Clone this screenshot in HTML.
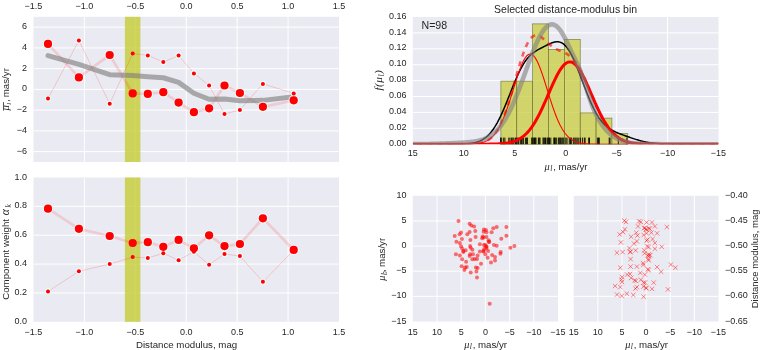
<!DOCTYPE html>
<html><head><meta charset="utf-8"><style>
html,body{margin:0;padding:0;background:#fff;width:760px;height:350px;overflow:hidden}
</style></head><body>
<svg width="760" height="350" viewBox="0 0 760 350" style="position:absolute;left:0;top:0;will-change:transform">
<g font-family='"Liberation Sans", sans-serif' fill="#262626">
<rect x="33.5" y="16.8" width="305.5" height="145.2" fill="#EAEAF2"/>
<line x1="84.42" y1="16.8" x2="84.42" y2="162" stroke="#fff" stroke-width="1"/>
<line x1="135.34" y1="16.8" x2="135.34" y2="162" stroke="#fff" stroke-width="1"/>
<line x1="186.25" y1="16.8" x2="186.25" y2="162" stroke="#fff" stroke-width="1"/>
<line x1="237.16" y1="16.8" x2="237.16" y2="162" stroke="#fff" stroke-width="1"/>
<line x1="288.08" y1="16.8" x2="288.08" y2="162" stroke="#fff" stroke-width="1"/>
<rect x="33.5" y="177.5" width="305.5" height="144.3" fill="#EAEAF2"/>
<line x1="84.42" y1="177.5" x2="84.42" y2="321.8" stroke="#fff" stroke-width="1"/>
<line x1="135.34" y1="177.5" x2="135.34" y2="321.8" stroke="#fff" stroke-width="1"/>
<line x1="186.25" y1="177.5" x2="186.25" y2="321.8" stroke="#fff" stroke-width="1"/>
<line x1="237.16" y1="177.5" x2="237.16" y2="321.8" stroke="#fff" stroke-width="1"/>
<line x1="288.08" y1="177.5" x2="288.08" y2="321.8" stroke="#fff" stroke-width="1"/>
<line x1="33.5" y1="27.18" x2="339" y2="27.18" stroke="#fff" stroke-width="1"/>
<line x1="33.5" y1="47.92" x2="339" y2="47.92" stroke="#fff" stroke-width="1"/>
<line x1="33.5" y1="68.66" x2="339" y2="68.66" stroke="#fff" stroke-width="1"/>
<line x1="33.5" y1="89.4" x2="339" y2="89.4" stroke="#fff" stroke-width="1"/>
<line x1="33.5" y1="110.14" x2="339" y2="110.14" stroke="#fff" stroke-width="1"/>
<line x1="33.5" y1="130.88" x2="339" y2="130.88" stroke="#fff" stroke-width="1"/>
<line x1="33.5" y1="151.62" x2="339" y2="151.62" stroke="#fff" stroke-width="1"/>
<line x1="33.5" y1="292.94" x2="339" y2="292.94" stroke="#fff" stroke-width="1"/>
<line x1="33.5" y1="264.08" x2="339" y2="264.08" stroke="#fff" stroke-width="1"/>
<line x1="33.5" y1="235.22" x2="339" y2="235.22" stroke="#fff" stroke-width="1"/>
<line x1="33.5" y1="206.36" x2="339" y2="206.36" stroke="#fff" stroke-width="1"/>
<rect x="124.9" y="16.8" width="15.5" height="145.2" fill="#C6CC34" fill-opacity="0.8"/>
<rect x="124.9" y="177.5" width="15.5" height="144.3" fill="#C6CC34" fill-opacity="0.8"/>
<polyline points="48,98.6 78.9,40.5 109.7,103.7 132.7,53.6 147.8,55.4 163.3,62 178.6,55.6 193.9,73.4 209.1,85.5 224.5,114 239.9,109.9 262.9,83.9 293.7,93.4" fill="none" stroke="#f00" stroke-opacity="0.2" stroke-width="0.85" stroke-linejoin="round"/>
<polyline points="48,43.9 78.9,77.4 109.7,55 132.7,93.4 147.8,93.9 163.3,92.2 178.6,102.6 193.9,112.2 209.1,108.3 224.5,85.5 239.9,93 262.9,106.8 293.7,100.3" fill="none" stroke="#f00" stroke-opacity="0.13" stroke-width="2.8" stroke-linejoin="round"/>
<polyline points="48,55.61 78.9,64.36 109.7,74.64 132.7,75.42 147.8,76.72 163.3,77.76 178.6,82.37 193.9,93.24 209.1,99.21 224.5,98.99 239.9,100.75 262.9,100.37 293.7,96.85" fill="none" stroke="#7C7C7C" stroke-opacity="0.61" stroke-width="5" stroke-linejoin="round" stroke-linecap="round"/>
<polyline points="48,291.4 78.9,271.3 109.7,264.1 132.7,257.1 147.8,257.9 163.3,253.3 178.6,260.2 193.9,251.8 209.1,264.8 224.5,254 239.9,256.1 262.9,281.8 293.7,250.2" fill="none" stroke="#f00" stroke-opacity="0.2" stroke-width="0.85" stroke-linejoin="round"/>
<polyline points="48,208.7 78.9,228.8 109.7,236 132.7,243 147.8,242.2 163.3,246.8 178.6,239.9 193.9,248.3 209.1,235.3 224.5,246.1 239.9,244 262.9,218.3 293.7,249.9" fill="none" stroke="#f00" stroke-opacity="0.13" stroke-width="2.8" stroke-linejoin="round"/>
<circle cx="48" cy="98.6" r="2.55" fill="none" stroke="#F4FFFF" stroke-width="1.1" stroke-opacity="0.8"/>
<circle cx="48" cy="43.9" r="4.65" fill="none" stroke="#F4FFFF" stroke-width="1.1" stroke-opacity="0.8"/>
<circle cx="48" cy="291.4" r="2.55" fill="none" stroke="#F4FFFF" stroke-width="1.1" stroke-opacity="0.8"/>
<circle cx="48" cy="208.7" r="4.65" fill="none" stroke="#F4FFFF" stroke-width="1.1" stroke-opacity="0.8"/>
<circle cx="78.9" cy="40.5" r="2.55" fill="none" stroke="#F4FFFF" stroke-width="1.1" stroke-opacity="0.8"/>
<circle cx="78.9" cy="77.4" r="4.65" fill="none" stroke="#F4FFFF" stroke-width="1.1" stroke-opacity="0.8"/>
<circle cx="78.9" cy="271.3" r="2.55" fill="none" stroke="#F4FFFF" stroke-width="1.1" stroke-opacity="0.8"/>
<circle cx="78.9" cy="228.8" r="4.65" fill="none" stroke="#F4FFFF" stroke-width="1.1" stroke-opacity="0.8"/>
<circle cx="109.7" cy="103.7" r="2.55" fill="none" stroke="#F4FFFF" stroke-width="1.1" stroke-opacity="0.8"/>
<circle cx="109.7" cy="55" r="4.65" fill="none" stroke="#F4FFFF" stroke-width="1.1" stroke-opacity="0.8"/>
<circle cx="109.7" cy="264.1" r="2.55" fill="none" stroke="#F4FFFF" stroke-width="1.1" stroke-opacity="0.8"/>
<circle cx="109.7" cy="236" r="4.65" fill="none" stroke="#F4FFFF" stroke-width="1.1" stroke-opacity="0.8"/>
<circle cx="147.8" cy="55.4" r="2.55" fill="none" stroke="#F4FFFF" stroke-width="1.1" stroke-opacity="0.8"/>
<circle cx="147.8" cy="93.9" r="4.65" fill="none" stroke="#F4FFFF" stroke-width="1.1" stroke-opacity="0.8"/>
<circle cx="147.8" cy="257.9" r="2.55" fill="none" stroke="#F4FFFF" stroke-width="1.1" stroke-opacity="0.8"/>
<circle cx="147.8" cy="242.2" r="4.65" fill="none" stroke="#F4FFFF" stroke-width="1.1" stroke-opacity="0.8"/>
<circle cx="163.3" cy="62" r="2.55" fill="none" stroke="#F4FFFF" stroke-width="1.1" stroke-opacity="0.8"/>
<circle cx="163.3" cy="92.2" r="4.65" fill="none" stroke="#F4FFFF" stroke-width="1.1" stroke-opacity="0.8"/>
<circle cx="163.3" cy="253.3" r="2.55" fill="none" stroke="#F4FFFF" stroke-width="1.1" stroke-opacity="0.8"/>
<circle cx="163.3" cy="246.8" r="4.65" fill="none" stroke="#F4FFFF" stroke-width="1.1" stroke-opacity="0.8"/>
<circle cx="178.6" cy="55.6" r="2.55" fill="none" stroke="#F4FFFF" stroke-width="1.1" stroke-opacity="0.8"/>
<circle cx="178.6" cy="102.6" r="4.65" fill="none" stroke="#F4FFFF" stroke-width="1.1" stroke-opacity="0.8"/>
<circle cx="178.6" cy="260.2" r="2.55" fill="none" stroke="#F4FFFF" stroke-width="1.1" stroke-opacity="0.8"/>
<circle cx="178.6" cy="239.9" r="4.65" fill="none" stroke="#F4FFFF" stroke-width="1.1" stroke-opacity="0.8"/>
<circle cx="193.9" cy="73.4" r="2.55" fill="none" stroke="#F4FFFF" stroke-width="1.1" stroke-opacity="0.8"/>
<circle cx="193.9" cy="112.2" r="4.65" fill="none" stroke="#F4FFFF" stroke-width="1.1" stroke-opacity="0.8"/>
<circle cx="193.9" cy="251.8" r="2.55" fill="none" stroke="#F4FFFF" stroke-width="1.1" stroke-opacity="0.8"/>
<circle cx="193.9" cy="248.3" r="4.65" fill="none" stroke="#F4FFFF" stroke-width="1.1" stroke-opacity="0.8"/>
<circle cx="209.1" cy="85.5" r="2.55" fill="none" stroke="#F4FFFF" stroke-width="1.1" stroke-opacity="0.8"/>
<circle cx="209.1" cy="108.3" r="4.65" fill="none" stroke="#F4FFFF" stroke-width="1.1" stroke-opacity="0.8"/>
<circle cx="209.1" cy="264.8" r="2.55" fill="none" stroke="#F4FFFF" stroke-width="1.1" stroke-opacity="0.8"/>
<circle cx="209.1" cy="235.3" r="4.65" fill="none" stroke="#F4FFFF" stroke-width="1.1" stroke-opacity="0.8"/>
<circle cx="224.5" cy="114" r="2.55" fill="none" stroke="#F4FFFF" stroke-width="1.1" stroke-opacity="0.8"/>
<circle cx="224.5" cy="85.5" r="4.65" fill="none" stroke="#F4FFFF" stroke-width="1.1" stroke-opacity="0.8"/>
<circle cx="224.5" cy="254" r="2.55" fill="none" stroke="#F4FFFF" stroke-width="1.1" stroke-opacity="0.8"/>
<circle cx="224.5" cy="246.1" r="4.65" fill="none" stroke="#F4FFFF" stroke-width="1.1" stroke-opacity="0.8"/>
<circle cx="239.9" cy="109.9" r="2.55" fill="none" stroke="#F4FFFF" stroke-width="1.1" stroke-opacity="0.8"/>
<circle cx="239.9" cy="93" r="4.65" fill="none" stroke="#F4FFFF" stroke-width="1.1" stroke-opacity="0.8"/>
<circle cx="239.9" cy="256.1" r="2.55" fill="none" stroke="#F4FFFF" stroke-width="1.1" stroke-opacity="0.8"/>
<circle cx="239.9" cy="244" r="4.65" fill="none" stroke="#F4FFFF" stroke-width="1.1" stroke-opacity="0.8"/>
<circle cx="262.9" cy="83.9" r="2.55" fill="none" stroke="#F4FFFF" stroke-width="1.1" stroke-opacity="0.8"/>
<circle cx="262.9" cy="106.8" r="4.65" fill="none" stroke="#F4FFFF" stroke-width="1.1" stroke-opacity="0.8"/>
<circle cx="262.9" cy="281.8" r="2.55" fill="none" stroke="#F4FFFF" stroke-width="1.1" stroke-opacity="0.8"/>
<circle cx="262.9" cy="218.3" r="4.65" fill="none" stroke="#F4FFFF" stroke-width="1.1" stroke-opacity="0.8"/>
<circle cx="293.7" cy="93.4" r="2.55" fill="none" stroke="#F4FFFF" stroke-width="1.1" stroke-opacity="0.8"/>
<circle cx="293.7" cy="100.3" r="4.65" fill="none" stroke="#F4FFFF" stroke-width="1.1" stroke-opacity="0.8"/>
<circle cx="293.7" cy="250.2" r="2.55" fill="none" stroke="#F4FFFF" stroke-width="1.1" stroke-opacity="0.8"/>
<circle cx="293.7" cy="249.9" r="4.65" fill="none" stroke="#F4FFFF" stroke-width="1.1" stroke-opacity="0.8"/>
<circle cx="48" cy="98.6" r="2.0" fill="#f00"/>
<circle cx="48" cy="43.9" r="4.1" fill="#f00"/>
<circle cx="48" cy="291.4" r="2.0" fill="#f00"/>
<circle cx="48" cy="208.7" r="4.1" fill="#f00"/>
<circle cx="78.9" cy="40.5" r="2.0" fill="#f00"/>
<circle cx="78.9" cy="77.4" r="4.1" fill="#f00"/>
<circle cx="78.9" cy="271.3" r="2.0" fill="#f00"/>
<circle cx="78.9" cy="228.8" r="4.1" fill="#f00"/>
<circle cx="109.7" cy="103.7" r="2.0" fill="#f00"/>
<circle cx="109.7" cy="55" r="4.1" fill="#f00"/>
<circle cx="109.7" cy="264.1" r="2.0" fill="#f00"/>
<circle cx="109.7" cy="236" r="4.1" fill="#f00"/>
<circle cx="132.7" cy="53.6" r="2.0" fill="#f00"/>
<circle cx="132.7" cy="93.4" r="4.1" fill="#f00"/>
<circle cx="132.7" cy="257.1" r="2.0" fill="#f00"/>
<circle cx="132.7" cy="243" r="4.1" fill="#f00"/>
<circle cx="147.8" cy="55.4" r="2.0" fill="#f00"/>
<circle cx="147.8" cy="93.9" r="4.1" fill="#f00"/>
<circle cx="147.8" cy="257.9" r="2.0" fill="#f00"/>
<circle cx="147.8" cy="242.2" r="4.1" fill="#f00"/>
<circle cx="163.3" cy="62" r="2.0" fill="#f00"/>
<circle cx="163.3" cy="92.2" r="4.1" fill="#f00"/>
<circle cx="163.3" cy="253.3" r="2.0" fill="#f00"/>
<circle cx="163.3" cy="246.8" r="4.1" fill="#f00"/>
<circle cx="178.6" cy="55.6" r="2.0" fill="#f00"/>
<circle cx="178.6" cy="102.6" r="4.1" fill="#f00"/>
<circle cx="178.6" cy="260.2" r="2.0" fill="#f00"/>
<circle cx="178.6" cy="239.9" r="4.1" fill="#f00"/>
<circle cx="193.9" cy="73.4" r="2.0" fill="#f00"/>
<circle cx="193.9" cy="112.2" r="4.1" fill="#f00"/>
<circle cx="193.9" cy="251.8" r="2.0" fill="#f00"/>
<circle cx="193.9" cy="248.3" r="4.1" fill="#f00"/>
<circle cx="209.1" cy="85.5" r="2.0" fill="#f00"/>
<circle cx="209.1" cy="108.3" r="4.1" fill="#f00"/>
<circle cx="209.1" cy="264.8" r="2.0" fill="#f00"/>
<circle cx="209.1" cy="235.3" r="4.1" fill="#f00"/>
<circle cx="224.5" cy="114" r="2.0" fill="#f00"/>
<circle cx="224.5" cy="85.5" r="4.1" fill="#f00"/>
<circle cx="224.5" cy="254" r="2.0" fill="#f00"/>
<circle cx="224.5" cy="246.1" r="4.1" fill="#f00"/>
<circle cx="239.9" cy="109.9" r="2.0" fill="#f00"/>
<circle cx="239.9" cy="93" r="4.1" fill="#f00"/>
<circle cx="239.9" cy="256.1" r="2.0" fill="#f00"/>
<circle cx="239.9" cy="244" r="4.1" fill="#f00"/>
<circle cx="262.9" cy="83.9" r="2.0" fill="#f00"/>
<circle cx="262.9" cy="106.8" r="4.1" fill="#f00"/>
<circle cx="262.9" cy="281.8" r="2.0" fill="#f00"/>
<circle cx="262.9" cy="218.3" r="4.1" fill="#f00"/>
<circle cx="293.7" cy="93.4" r="2.0" fill="#f00"/>
<circle cx="293.7" cy="100.3" r="4.1" fill="#f00"/>
<circle cx="293.7" cy="250.2" r="2.0" fill="#f00"/>
<circle cx="293.7" cy="249.9" r="4.1" fill="#f00"/>
<text x="33.5" y="9.2" text-anchor="middle" font-size="9" >−1.5</text>
<text x="33.5" y="335" text-anchor="middle" font-size="9" >−1.5</text>
<text x="84.42" y="9.2" text-anchor="middle" font-size="9" >−1.0</text>
<text x="84.42" y="335" text-anchor="middle" font-size="9" >−1.0</text>
<text x="135.34" y="9.2" text-anchor="middle" font-size="9" >−0.5</text>
<text x="135.34" y="335" text-anchor="middle" font-size="9" >−0.5</text>
<text x="186.25" y="9.2" text-anchor="middle" font-size="9" >0.0</text>
<text x="186.25" y="335" text-anchor="middle" font-size="9" >0.0</text>
<text x="237.16" y="9.2" text-anchor="middle" font-size="9" >0.5</text>
<text x="237.16" y="335" text-anchor="middle" font-size="9" >0.5</text>
<text x="288.08" y="9.2" text-anchor="middle" font-size="9" >1.0</text>
<text x="288.08" y="335" text-anchor="middle" font-size="9" >1.0</text>
<text x="339" y="9.2" text-anchor="middle" font-size="9" >1.5</text>
<text x="339" y="335" text-anchor="middle" font-size="9" >1.5</text>
<text x="27" y="29.18" text-anchor="end" font-size="9" >6</text>
<text x="27" y="49.92" text-anchor="end" font-size="9" >4</text>
<text x="27" y="70.66" text-anchor="end" font-size="9" >2</text>
<text x="27" y="91.4" text-anchor="end" font-size="9" >0</text>
<text x="27" y="112.14" text-anchor="end" font-size="9" >−2</text>
<text x="27" y="132.88" text-anchor="end" font-size="9" >−4</text>
<text x="27" y="153.62" text-anchor="end" font-size="9" >−6</text>
<text x="27" y="323.8" text-anchor="end" font-size="9" >0.0</text>
<text x="27" y="294.94" text-anchor="end" font-size="9" >0.2</text>
<text x="27" y="266.08" text-anchor="end" font-size="9" >0.4</text>
<text x="27" y="237.22" text-anchor="end" font-size="9" >0.6</text>
<text x="27" y="208.36" text-anchor="end" font-size="9" >0.8</text>
<text x="27" y="179.5" text-anchor="end" font-size="9" >1.0</text>
<g transform="translate(9.4,110.7) rotate(-90)"><text x="0.2" y="0" font-size="10.5" font-family='"Liberation Serif", serif' font-style='italic'>μ</text><text x="5.9" y="1.6" font-size="7" font-family='"Liberation Serif", serif' font-style='italic'>l</text><text x="8.6" y="0" font-size="9.7">,</text><text x="13.5" y="0" font-size="9.7">mas/yr</text></g>
<line x1="3.5" y1="102.1" x2="3.5" y2="110.6" stroke="#262626" stroke-width="0.8"/>
<g transform="translate(9.4,299.8) rotate(-90)"><text x="0" y="0" font-size="9.7">Component weight</text><text x="84.6" y="0" font-size="11.5" font-family='"Liberation Serif", serif' font-style='italic'>α</text><text x="92.4" y="1.6" font-size="7.5" font-family='"Liberation Serif", serif' font-style='italic'>k</text></g>
<text x="186.6" y="347.9" text-anchor="middle" font-size="9.7" >Distance modulus, mag</text>
<rect x="412.8" y="17" width="305.7" height="127.2" fill="#EAEAF2"/>
<line x1="463.75" y1="17" x2="463.75" y2="144.2" stroke="#fff" stroke-width="1"/>
<line x1="514.7" y1="17" x2="514.7" y2="144.2" stroke="#fff" stroke-width="1"/>
<line x1="565.65" y1="17" x2="565.65" y2="144.2" stroke="#fff" stroke-width="1"/>
<line x1="616.6" y1="17" x2="616.6" y2="144.2" stroke="#fff" stroke-width="1"/>
<line x1="667.55" y1="17" x2="667.55" y2="144.2" stroke="#fff" stroke-width="1"/>
<line x1="412.8" y1="128.3" x2="718.5" y2="128.3" stroke="#fff" stroke-width="1"/>
<line x1="412.8" y1="112.4" x2="718.5" y2="112.4" stroke="#fff" stroke-width="1"/>
<line x1="412.8" y1="96.5" x2="718.5" y2="96.5" stroke="#fff" stroke-width="1"/>
<line x1="412.8" y1="80.6" x2="718.5" y2="80.6" stroke="#fff" stroke-width="1"/>
<line x1="412.8" y1="64.7" x2="718.5" y2="64.7" stroke="#fff" stroke-width="1"/>
<line x1="412.8" y1="48.8" x2="718.5" y2="48.8" stroke="#fff" stroke-width="1"/>
<line x1="412.8" y1="32.9" x2="718.5" y2="32.9" stroke="#fff" stroke-width="1"/>
<rect x="500.9" y="81.1" width="15.86" height="63.1" fill="#C8CC3C" fill-opacity="0.75" stroke="#6E6E3A" stroke-width="0.6"/>
<rect x="516.76" y="81.1" width="15.86" height="63.1" fill="#C8CC3C" fill-opacity="0.75" stroke="#6E6E3A" stroke-width="0.6"/>
<rect x="532.62" y="23.9" width="15.86" height="120.3" fill="#C8CC3C" fill-opacity="0.75" stroke="#6E6E3A" stroke-width="0.6"/>
<rect x="548.48" y="49.3" width="15.86" height="94.9" fill="#C8CC3C" fill-opacity="0.75" stroke="#6E6E3A" stroke-width="0.6"/>
<rect x="564.34" y="39.4" width="15.86" height="104.8" fill="#C8CC3C" fill-opacity="0.75" stroke="#6E6E3A" stroke-width="0.6"/>
<rect x="580.2" y="112.9" width="15.86" height="31.3" fill="#C8CC3C" fill-opacity="0.75" stroke="#6E6E3A" stroke-width="0.6"/>
<rect x="596.06" y="118.1" width="15.86" height="26.1" fill="#C8CC3C" fill-opacity="0.75" stroke="#6E6E3A" stroke-width="0.6"/>
<rect x="611.92" y="133.7" width="15.86" height="10.5" fill="#C8CC3C" fill-opacity="0.75" stroke="#6E6E3A" stroke-width="0.6"/>
<line x1="500.5" y1="137.6" x2="500.5" y2="144.2" stroke="#000" stroke-width="0.9"/>
<line x1="501.7" y1="137.6" x2="501.7" y2="144.2" stroke="#000" stroke-width="0.9"/>
<line x1="503.7" y1="137.6" x2="503.7" y2="144.2" stroke="#000" stroke-width="0.9"/>
<line x1="504.9" y1="137.6" x2="504.9" y2="144.2" stroke="#000" stroke-width="0.9"/>
<line x1="508.8" y1="137.6" x2="508.8" y2="144.2" stroke="#000" stroke-width="0.9"/>
<line x1="510" y1="137.6" x2="510" y2="144.2" stroke="#000" stroke-width="0.9"/>
<line x1="511.6" y1="137.6" x2="511.6" y2="144.2" stroke="#000" stroke-width="0.9"/>
<line x1="512.8" y1="137.6" x2="512.8" y2="144.2" stroke="#000" stroke-width="0.9"/>
<line x1="513.9" y1="137.6" x2="513.9" y2="144.2" stroke="#000" stroke-width="0.9"/>
<line x1="515.5" y1="137.6" x2="515.5" y2="144.2" stroke="#000" stroke-width="0.9"/>
<line x1="516.7" y1="137.6" x2="516.7" y2="144.2" stroke="#000" stroke-width="0.9"/>
<line x1="517.9" y1="137.6" x2="517.9" y2="144.2" stroke="#000" stroke-width="0.9"/>
<line x1="518.7" y1="137.6" x2="518.7" y2="144.2" stroke="#000" stroke-width="0.9"/>
<line x1="520.3" y1="137.6" x2="520.3" y2="144.2" stroke="#000" stroke-width="0.9"/>
<line x1="521.4" y1="137.6" x2="521.4" y2="144.2" stroke="#000" stroke-width="0.9"/>
<line x1="522.2" y1="137.6" x2="522.2" y2="144.2" stroke="#000" stroke-width="0.9"/>
<line x1="523.4" y1="137.6" x2="523.4" y2="144.2" stroke="#000" stroke-width="0.9"/>
<line x1="525.4" y1="137.6" x2="525.4" y2="144.2" stroke="#000" stroke-width="0.9"/>
<line x1="526.6" y1="137.6" x2="526.6" y2="144.2" stroke="#000" stroke-width="0.9"/>
<line x1="527.4" y1="137.6" x2="527.4" y2="144.2" stroke="#000" stroke-width="0.9"/>
<line x1="531.7" y1="137.6" x2="531.7" y2="144.2" stroke="#000" stroke-width="0.9"/>
<line x1="532.7" y1="137.6" x2="532.7" y2="144.2" stroke="#000" stroke-width="0.9"/>
<line x1="533.7" y1="137.6" x2="533.7" y2="144.2" stroke="#000" stroke-width="0.9"/>
<line x1="534.5" y1="137.6" x2="534.5" y2="144.2" stroke="#000" stroke-width="0.9"/>
<line x1="535.3" y1="137.6" x2="535.3" y2="144.2" stroke="#000" stroke-width="0.9"/>
<line x1="536" y1="137.6" x2="536" y2="144.2" stroke="#000" stroke-width="0.9"/>
<line x1="538.4" y1="137.6" x2="538.4" y2="144.2" stroke="#000" stroke-width="0.9"/>
<line x1="539.2" y1="137.6" x2="539.2" y2="144.2" stroke="#000" stroke-width="0.9"/>
<line x1="540" y1="137.6" x2="540" y2="144.2" stroke="#000" stroke-width="0.9"/>
<line x1="543" y1="137.6" x2="543" y2="144.2" stroke="#000" stroke-width="0.9"/>
<line x1="543.8" y1="137.6" x2="543.8" y2="144.2" stroke="#000" stroke-width="0.9"/>
<line x1="544.7" y1="137.6" x2="544.7" y2="144.2" stroke="#000" stroke-width="0.9"/>
<line x1="545.5" y1="137.6" x2="545.5" y2="144.2" stroke="#000" stroke-width="0.9"/>
<line x1="547" y1="137.6" x2="547" y2="144.2" stroke="#000" stroke-width="0.9"/>
<line x1="547.8" y1="137.6" x2="547.8" y2="144.2" stroke="#000" stroke-width="0.9"/>
<line x1="548.7" y1="137.6" x2="548.7" y2="144.2" stroke="#000" stroke-width="0.9"/>
<line x1="549.5" y1="137.6" x2="549.5" y2="144.2" stroke="#000" stroke-width="0.9"/>
<line x1="550.8" y1="137.6" x2="550.8" y2="144.2" stroke="#000" stroke-width="0.9"/>
<line x1="553.8" y1="137.6" x2="553.8" y2="144.2" stroke="#000" stroke-width="0.9"/>
<line x1="554.5" y1="137.6" x2="554.5" y2="144.2" stroke="#000" stroke-width="0.9"/>
<line x1="555.3" y1="137.6" x2="555.3" y2="144.2" stroke="#000" stroke-width="0.9"/>
<line x1="556.3" y1="137.6" x2="556.3" y2="144.2" stroke="#000" stroke-width="0.9"/>
<line x1="558.3" y1="137.6" x2="558.3" y2="144.2" stroke="#000" stroke-width="0.9"/>
<line x1="559.1" y1="137.6" x2="559.1" y2="144.2" stroke="#000" stroke-width="0.9"/>
<line x1="559.9" y1="137.6" x2="559.9" y2="144.2" stroke="#000" stroke-width="0.9"/>
<line x1="560.7" y1="137.6" x2="560.7" y2="144.2" stroke="#000" stroke-width="0.9"/>
<line x1="561.8" y1="137.6" x2="561.8" y2="144.2" stroke="#000" stroke-width="0.9"/>
<line x1="562.8" y1="137.6" x2="562.8" y2="144.2" stroke="#000" stroke-width="0.9"/>
<line x1="563.8" y1="137.6" x2="563.8" y2="144.2" stroke="#000" stroke-width="0.9"/>
<line x1="565.8" y1="137.6" x2="565.8" y2="144.2" stroke="#000" stroke-width="0.9"/>
<line x1="567" y1="137.6" x2="567" y2="144.2" stroke="#000" stroke-width="0.9"/>
<line x1="569.3" y1="137.6" x2="569.3" y2="144.2" stroke="#000" stroke-width="0.9"/>
<line x1="570.5" y1="137.6" x2="570.5" y2="144.2" stroke="#000" stroke-width="0.9"/>
<line x1="571.7" y1="137.6" x2="571.7" y2="144.2" stroke="#000" stroke-width="0.9"/>
<line x1="573.7" y1="137.6" x2="573.7" y2="144.2" stroke="#000" stroke-width="0.9"/>
<line x1="574.9" y1="137.6" x2="574.9" y2="144.2" stroke="#000" stroke-width="0.9"/>
<line x1="576" y1="137.6" x2="576" y2="144.2" stroke="#000" stroke-width="0.9"/>
<line x1="577.2" y1="137.6" x2="577.2" y2="144.2" stroke="#000" stroke-width="0.9"/>
<line x1="578.8" y1="137.6" x2="578.8" y2="144.2" stroke="#000" stroke-width="0.9"/>
<line x1="580.4" y1="137.6" x2="580.4" y2="144.2" stroke="#000" stroke-width="0.9"/>
<line x1="582.4" y1="137.6" x2="582.4" y2="144.2" stroke="#000" stroke-width="0.9"/>
<line x1="584.3" y1="137.6" x2="584.3" y2="144.2" stroke="#000" stroke-width="0.9"/>
<line x1="585.1" y1="137.6" x2="585.1" y2="144.2" stroke="#000" stroke-width="0.9"/>
<line x1="588.7" y1="137.6" x2="588.7" y2="144.2" stroke="#000" stroke-width="0.9"/>
<line x1="589.5" y1="137.6" x2="589.5" y2="144.2" stroke="#000" stroke-width="0.9"/>
<line x1="597.4" y1="137.6" x2="597.4" y2="144.2" stroke="#000" stroke-width="0.9"/>
<line x1="598.5" y1="137.6" x2="598.5" y2="144.2" stroke="#000" stroke-width="0.9"/>
<line x1="599.3" y1="137.6" x2="599.3" y2="144.2" stroke="#000" stroke-width="0.9"/>
<line x1="609.2" y1="137.6" x2="609.2" y2="144.2" stroke="#000" stroke-width="0.9"/>
<line x1="610" y1="137.6" x2="610" y2="144.2" stroke="#000" stroke-width="0.9"/>
<line x1="618.3" y1="137.6" x2="618.3" y2="144.2" stroke="#000" stroke-width="0.9"/>
<line x1="626.9" y1="137.6" x2="626.9" y2="144.2" stroke="#000" stroke-width="0.9"/>
<clipPath id="ctr"><rect x="412.8" y="17" width="305.7" height="127.2"/></clipPath>
<g clip-path="url(#ctr)">
<polyline points="412.80,144.20 413.57,144.20 414.33,144.20 415.10,144.20 415.86,144.20 416.63,144.20 417.40,144.20 418.16,144.20 418.93,144.20 419.70,144.20 420.46,144.20 421.23,144.20 421.99,144.20 422.76,144.20 423.53,144.20 424.29,144.20 425.06,144.20 425.82,144.20 426.59,144.20 427.36,144.20 428.12,144.20 428.89,144.20 429.66,144.20 430.42,144.20 431.19,144.20 431.95,144.20 432.72,144.20 433.49,144.20 434.25,144.20 435.02,144.20 435.78,144.20 436.55,144.20 437.32,144.20 438.08,144.20 438.85,144.20 439.62,144.20 440.38,144.20 441.15,144.20 441.91,144.20 442.68,144.20 443.45,144.20 444.21,144.20 444.98,144.19 445.75,144.19 446.51,144.19 447.28,144.19 448.04,144.19 448.81,144.19 449.58,144.19 450.34,144.18 451.11,144.18 451.87,144.18 452.64,144.17 453.41,144.17 454.17,144.16 454.94,144.15 455.71,144.15 456.47,144.14 457.24,144.13 458.00,144.11 458.77,144.10 459.54,144.08 460.30,144.07 461.07,144.05 461.83,144.02 462.60,143.99 463.37,143.96 464.13,143.93 464.90,143.89 465.67,143.84 466.43,143.79 467.20,143.74 467.96,143.67 468.73,143.60 469.50,143.52 470.26,143.43 471.03,143.32 471.79,143.21 472.56,143.08 473.33,142.95 474.09,142.79 474.86,142.62 475.63,142.43 476.39,142.22 477.16,141.99 477.92,141.74 478.69,141.46 479.46,141.16 480.22,140.83 480.99,140.47 481.75,140.08 482.52,139.66 483.29,139.20 484.05,138.71 484.82,138.17 485.59,137.60 486.35,136.98 487.12,136.32 487.88,135.61 488.65,134.86 489.42,134.05 490.18,133.20 490.95,132.29 491.72,131.33 492.48,130.31 493.25,129.24 494.01,128.12 494.78,126.94 495.55,125.70 496.31,124.41 497.08,123.06 497.84,121.65 498.61,120.19 499.38,118.68 500.14,117.12 500.91,115.51 501.68,113.86 502.44,112.15 503.21,110.41 503.97,108.63 504.74,106.82 505.51,104.97 506.27,103.10 507.04,101.21 507.80,99.29 508.57,97.37 509.34,95.43 510.10,93.50 510.87,91.56 511.64,89.63 512.40,87.71 513.17,85.81 513.93,83.93 514.70,82.08 515.47,80.26 516.23,78.48 517.00,76.73 517.76,75.03 518.53,73.38 519.30,71.77 520.06,70.22 520.83,68.73 521.60,67.30 522.36,65.93 523.13,64.61 523.89,63.36 524.66,62.18 525.43,61.05 526.19,59.99 526.96,58.98 527.72,58.04 528.49,57.15 529.26,56.32 530.02,55.54 530.79,54.81 531.56,54.13 532.32,53.49 533.09,52.89 533.85,52.32 534.62,51.79 535.39,51.28 536.15,50.80 536.92,50.34 537.68,49.90 538.45,49.47 539.22,49.06 539.98,48.65 540.75,48.25 541.52,47.86 542.28,47.47 543.05,47.08 543.81,46.69 544.58,46.30 545.35,45.92 546.11,45.54 546.88,45.16 547.65,44.78 548.41,44.41 549.18,44.06 549.94,43.71 550.71,43.38 551.48,43.07 552.24,42.78 553.01,42.52 553.77,42.29 554.54,42.10 555.31,41.95 556.07,41.84 556.84,41.78 557.61,41.78 558.37,41.84 559.14,41.96 559.90,42.14 560.67,42.40 561.44,42.74 562.20,43.15 562.97,43.64 563.73,44.21 564.50,44.87 565.27,45.61 566.03,46.45 566.80,47.36 567.57,48.37 568.33,49.46 569.10,50.64 569.86,51.90 570.63,53.25 571.40,54.67 572.16,56.16 572.93,57.73 573.69,59.37 574.46,61.07 575.23,62.83 575.99,64.65 576.76,66.51 577.53,68.42 578.29,70.36 579.06,72.34 579.82,74.34 580.59,76.36 581.36,78.39 582.12,80.43 582.89,82.48 583.65,84.52 584.42,86.55 585.19,88.56 585.95,90.56 586.72,92.53 587.49,94.47 588.25,96.37 589.02,98.24 589.78,100.07 590.55,101.85 591.32,103.58 592.08,105.26 592.85,106.89 593.62,108.46 594.38,109.98 595.15,111.43 595.91,112.83 596.68,114.17 597.45,115.45 598.21,116.67 598.98,117.84 599.74,118.94 600.51,119.99 601.28,120.98 602.04,121.92 602.81,122.81 603.58,123.65 604.34,124.43 605.11,125.18 605.87,125.88 606.64,126.54 607.41,127.16 608.17,127.74 608.94,128.29 609.70,128.80 610.47,129.29 611.24,129.76 612.00,130.19 612.77,130.61 613.54,131.01 614.30,131.38 615.07,131.75 615.83,132.09 616.60,132.43 617.37,132.76 618.13,133.07 618.90,133.38 619.66,133.69 620.43,133.98 621.20,134.27 621.96,134.56 622.73,134.85 623.50,135.13 624.26,135.41 625.03,135.69 625.79,135.97 626.56,136.24 627.33,136.51 628.09,136.79 628.86,137.06 629.62,137.32 630.39,137.59 631.16,137.86 631.92,138.12 632.69,138.37 633.46,138.63 634.22,138.88 634.99,139.13 635.75,139.37 636.52,139.61 637.29,139.84 638.05,140.07 638.82,140.29 639.58,140.51 640.35,140.71 641.12,140.92 641.88,141.11 642.65,141.30 643.42,141.48 644.18,141.66 644.95,141.82 645.71,141.98 646.48,142.14 647.25,142.28 648.01,142.42 648.78,142.55 649.55,142.67 650.31,142.79 651.08,142.90 651.84,143.00 652.61,143.10 653.38,143.19 654.14,143.28 654.91,143.36 655.67,143.43 656.44,143.50 657.21,143.56 657.97,143.62 658.74,143.68 659.51,143.73 660.27,143.77 661.04,143.81 661.80,143.85 662.57,143.89 663.34,143.92 664.10,143.95 664.87,143.98 665.63,144.00 666.40,144.02 667.17,144.04 667.93,144.06 668.70,144.08 669.47,144.09 670.23,144.10 671.00,144.11 671.76,144.12 672.53,144.13 673.30,144.14 674.06,144.15 674.83,144.16 675.59,144.16 676.36,144.17 677.13,144.17 677.89,144.17 678.66,144.18 679.43,144.18 680.19,144.18 680.96,144.19 681.72,144.19 682.49,144.19 683.26,144.19 684.02,144.19 684.79,144.19 685.55,144.19 686.32,144.20 687.09,144.20 687.85,144.20 688.62,144.20 689.39,144.20 690.15,144.20 690.92,144.20 691.68,144.20 692.45,144.20 693.22,144.20 693.98,144.20 694.75,144.20 695.52,144.20 696.28,144.20 697.05,144.20 697.81,144.20 698.58,144.20 699.35,144.20 700.11,144.20 700.88,144.20 701.64,144.20 702.41,144.20 703.18,144.20 703.94,144.20 704.71,144.20 705.48,144.20 706.24,144.20 707.01,144.20 707.77,144.20 708.54,144.20 709.31,144.20 710.07,144.20 710.84,144.20 711.60,144.20 712.37,144.20 713.14,144.20 713.90,144.20 714.67,144.20 715.44,144.20 716.20,144.20 716.97,144.20 717.73,144.20 718.50,144.20" fill="none" stroke="#000" stroke-width="1.5"/>
<polyline points="412.80,144.20 413.57,144.20 414.33,144.20 415.10,144.20 415.86,144.20 416.63,144.20 417.40,144.20 418.16,144.20 418.93,144.20 419.70,144.20 420.46,144.20 421.23,144.20 421.99,144.20 422.76,144.20 423.53,144.20 424.29,144.20 425.06,144.20 425.82,144.20 426.59,144.20 427.36,144.20 428.12,144.20 428.89,144.20 429.66,144.20 430.42,144.20 431.19,144.20 431.95,144.20 432.72,144.20 433.49,144.20 434.25,144.20 435.02,144.20 435.78,144.20 436.55,144.20 437.32,144.20 438.08,144.20 438.85,144.20 439.62,144.20 440.38,144.20 441.15,144.20 441.91,144.20 442.68,144.20 443.45,144.20 444.21,144.20 444.98,144.20 445.75,144.20 446.51,144.20 447.28,144.20 448.04,144.20 448.81,144.20 449.58,144.20 450.34,144.20 451.11,144.20 451.87,144.20 452.64,144.20 453.41,144.20 454.17,144.20 454.94,144.20 455.71,144.19 456.47,144.19 457.24,144.19 458.00,144.19 458.77,144.19 459.54,144.18 460.30,144.18 461.07,144.18 461.83,144.17 462.60,144.17 463.37,144.16 464.13,144.15 464.90,144.15 465.67,144.13 466.43,144.12 467.20,144.11 467.96,144.09 468.73,144.07 469.50,144.05 470.26,144.02 471.03,143.99 471.79,143.96 472.56,143.92 473.33,143.87 474.09,143.82 474.86,143.76 475.63,143.69 476.39,143.61 477.16,143.52 477.92,143.41 478.69,143.30 479.46,143.17 480.22,143.02 480.99,142.85 481.75,142.66 482.52,142.45 483.29,142.21 484.05,141.95 484.82,141.66 485.59,141.34 486.35,140.98 487.12,140.58 487.88,140.14 488.65,139.66 489.42,139.13 490.18,138.56 490.95,137.92 491.72,137.24 492.48,136.49 493.25,135.68 494.01,134.80 494.78,133.86 495.55,132.84 496.31,131.74 497.08,130.57 497.84,129.32 498.61,127.99 499.38,126.57 500.14,125.06 500.91,123.47 501.68,121.79 502.44,120.02 503.21,118.17 503.97,116.23 504.74,114.20 505.51,112.09 506.27,109.90 507.04,107.63 507.80,105.29 508.57,102.87 509.34,100.40 510.10,97.86 510.87,95.28 511.64,92.65 512.40,89.98 513.17,87.28 513.93,84.56 514.70,81.83 515.47,79.10 516.23,76.38 517.00,73.67 517.76,70.99 518.53,68.35 519.30,65.76 520.06,63.22 520.83,60.75 521.60,58.36 522.36,56.05 523.13,53.84 523.89,51.73 524.66,49.73 525.43,47.85 526.19,46.08 526.96,44.45 527.72,42.94 528.49,41.58 529.26,40.34 530.02,39.25 530.79,38.29 531.56,37.47 532.32,36.79 533.09,36.24 533.85,35.82 534.62,35.52 535.39,35.35 536.15,35.29 536.92,35.33 537.68,35.48 538.45,35.72 539.22,36.04 539.98,36.44 540.75,36.90 541.52,37.43 542.28,38.00 543.05,38.62 543.81,39.27 544.58,39.94 545.35,40.63 546.11,41.33 546.88,42.03 547.65,42.73 548.41,43.42 549.18,44.09 549.94,44.74 550.71,45.37 551.48,45.98 552.24,46.55 553.01,47.10 553.77,47.61 554.54,48.10 555.31,48.55 556.07,48.98 556.84,49.38 557.61,49.76 558.37,50.12 559.14,50.46 559.90,50.78 560.67,51.10 561.44,51.42 562.20,51.73 562.97,52.05 563.73,52.39 564.50,52.74 565.27,53.11 566.03,53.50 566.80,53.93 567.57,54.39 568.33,54.89 569.10,55.44 569.86,56.03 570.63,56.68 571.40,57.37 572.16,58.13 572.93,58.94 573.69,59.81 574.46,60.74 575.23,61.74 575.99,62.80 576.76,63.91 577.53,65.09 578.29,66.33 579.06,67.63 579.82,68.98 580.59,70.39 581.36,71.85 582.12,73.36 582.89,74.92 583.65,76.51 584.42,78.15 585.19,79.82 585.95,81.52 586.72,83.25 587.49,85.00 588.25,86.77 589.02,88.55 589.78,90.35 590.55,92.15 591.32,93.94 592.08,95.74 592.85,97.53 593.62,99.31 594.38,101.08 595.15,102.82 595.91,104.55 596.68,106.25 597.45,107.92 598.21,109.57 598.98,111.18 599.74,112.75 600.51,114.29 601.28,115.78 602.04,117.24 602.81,118.65 603.58,120.03 604.34,121.35 605.11,122.63 605.87,123.87 606.64,125.05 607.41,126.19 608.17,127.29 608.94,128.34 609.70,129.34 610.47,130.30 611.24,131.21 612.00,132.07 612.77,132.90 613.54,133.68 614.30,134.42 615.07,135.12 615.83,135.78 616.60,136.40 617.37,136.98 618.13,137.53 618.90,138.05 619.66,138.53 620.43,138.98 621.20,139.40 621.96,139.80 622.73,140.16 623.50,140.50 624.26,140.82 625.03,141.11 625.79,141.38 626.56,141.63 627.33,141.86 628.09,142.08 628.86,142.27 629.62,142.45 630.39,142.62 631.16,142.77 631.92,142.91 632.69,143.04 633.46,143.15 634.22,143.26 634.99,143.35 635.75,143.44 636.52,143.52 637.29,143.59 638.05,143.65 638.82,143.71 639.58,143.77 640.35,143.81 641.12,143.86 641.88,143.89 642.65,143.93 643.42,143.96 644.18,143.99 644.95,144.01 645.71,144.03 646.48,144.05 647.25,144.07 648.01,144.09 648.78,144.10 649.55,144.11 650.31,144.12 651.08,144.13 651.84,144.14 652.61,144.15 653.38,144.16 654.14,144.16 654.91,144.17 655.67,144.17 656.44,144.17 657.21,144.18 657.97,144.18 658.74,144.18 659.51,144.19 660.27,144.19 661.04,144.19 661.80,144.19 662.57,144.19 663.34,144.19 664.10,144.19 664.87,144.20 665.63,144.20 666.40,144.20 667.17,144.20 667.93,144.20 668.70,144.20 669.47,144.20 670.23,144.20 671.00,144.20 671.76,144.20 672.53,144.20 673.30,144.20 674.06,144.20 674.83,144.20 675.59,144.20 676.36,144.20 677.13,144.20 677.89,144.20 678.66,144.20 679.43,144.20 680.19,144.20 680.96,144.20 681.72,144.20 682.49,144.20 683.26,144.20 684.02,144.20 684.79,144.20 685.55,144.20 686.32,144.20 687.09,144.20 687.85,144.20 688.62,144.20 689.39,144.20 690.15,144.20 690.92,144.20 691.68,144.20 692.45,144.20 693.22,144.20 693.98,144.20 694.75,144.20 695.52,144.20 696.28,144.20 697.05,144.20 697.81,144.20 698.58,144.20 699.35,144.20 700.11,144.20 700.88,144.20 701.64,144.20 702.41,144.20 703.18,144.20 703.94,144.20 704.71,144.20 705.48,144.20 706.24,144.20 707.01,144.20 707.77,144.20 708.54,144.20 709.31,144.20 710.07,144.20 710.84,144.20 711.60,144.20 712.37,144.20 713.14,144.20 713.90,144.20 714.67,144.20 715.44,144.20 716.20,144.20 716.97,144.20 717.73,144.20 718.50,144.20" fill="none" stroke="#f00" stroke-opacity="0.6" stroke-width="2.6" stroke-dasharray="5.1,5.1" stroke-dashoffset="5.90"/>
<polyline points="412.80,144.20 413.57,144.20 414.33,144.20 415.10,144.20 415.86,144.20 416.63,144.20 417.40,144.20 418.16,144.20 418.93,144.20 419.70,144.20 420.46,144.20 421.23,144.20 421.99,144.20 422.76,144.20 423.53,144.20 424.29,144.20 425.06,144.20 425.82,144.20 426.59,144.20 427.36,144.20 428.12,144.20 428.89,144.20 429.66,144.20 430.42,144.20 431.19,144.20 431.95,144.20 432.72,144.20 433.49,144.20 434.25,144.20 435.02,144.20 435.78,144.20 436.55,144.20 437.32,144.20 438.08,144.20 438.85,144.20 439.62,144.20 440.38,144.20 441.15,144.20 441.91,144.20 442.68,144.20 443.45,144.20 444.21,144.20 444.98,144.20 445.75,144.20 446.51,144.20 447.28,144.20 448.04,144.20 448.81,144.20 449.58,144.20 450.34,144.20 451.11,144.20 451.87,144.20 452.64,144.20 453.41,144.20 454.17,144.20 454.94,144.20 455.71,144.19 456.47,144.19 457.24,144.19 458.00,144.19 458.77,144.19 459.54,144.18 460.30,144.18 461.07,144.18 461.83,144.17 462.60,144.17 463.37,144.16 464.13,144.15 464.90,144.15 465.67,144.14 466.43,144.12 467.20,144.11 467.96,144.09 468.73,144.07 469.50,144.05 470.26,144.03 471.03,144.00 471.79,143.96 472.56,143.92 473.33,143.88 474.09,143.82 474.86,143.76 475.63,143.69 476.39,143.61 477.16,143.52 477.92,143.42 478.69,143.31 479.46,143.18 480.22,143.03 480.99,142.87 481.75,142.68 482.52,142.47 483.29,142.24 484.05,141.98 484.82,141.69 485.59,141.37 486.35,141.02 487.12,140.63 487.88,140.20 488.65,139.73 489.42,139.21 490.18,138.64 490.95,138.02 491.72,137.35 492.48,136.62 493.25,135.82 494.01,134.97 494.78,134.04 495.55,133.05 496.31,131.98 497.08,130.84 497.84,129.62 498.61,128.33 499.38,126.95 500.14,125.49 500.91,123.96 501.68,122.33 502.44,120.63 503.21,118.85 503.97,116.98 504.74,115.04 505.51,113.03 506.27,110.94 507.04,108.79 507.80,106.57 508.57,104.30 509.34,101.97 510.10,99.60 510.87,97.19 511.64,94.76 512.40,92.30 513.17,89.83 513.93,87.37 514.70,84.91 515.47,82.47 516.23,80.06 517.00,77.69 517.76,75.38 518.53,73.13 519.30,70.95 520.06,68.87 520.83,66.88 521.60,65.00 522.36,63.24 523.13,61.61 523.89,60.12 524.66,58.78 525.43,57.59 526.19,56.56 526.96,55.71 527.72,55.02 528.49,54.52 529.26,54.19 530.02,54.05 530.79,54.10 531.56,54.32 532.32,54.73 533.09,55.32 533.85,56.08 534.62,57.02 535.39,58.12 536.15,59.38 536.92,60.79 537.68,62.35 538.45,64.04 539.22,65.85 539.98,67.78 540.75,69.82 541.52,71.95 542.28,74.16 543.05,76.44 543.81,78.78 544.58,81.16 545.35,83.59 546.11,86.04 546.88,88.50 547.65,90.97 548.41,93.44 549.18,95.88 549.94,98.31 550.71,100.70 551.48,103.05 552.24,105.35 553.01,107.60 553.77,109.79 554.54,111.91 555.31,113.97 556.07,115.95 556.84,117.85 557.61,119.68 558.37,121.43 559.14,123.09 559.90,124.68 560.67,126.18 561.44,127.60 562.20,128.94 562.97,130.20 563.73,131.38 564.50,132.48 565.27,133.52 566.03,134.48 566.80,135.37 567.57,136.20 568.33,136.96 569.10,137.67 569.86,138.32 570.63,138.91 571.40,139.45 572.16,139.95 572.93,140.40 573.69,140.82 574.46,141.19 575.23,141.53 575.99,141.83 576.76,142.10 577.53,142.35 578.29,142.57 579.06,142.77 579.82,142.94 580.59,143.10 581.36,143.24 582.12,143.36 582.89,143.47 583.65,143.57 584.42,143.65 585.19,143.73 585.95,143.79 586.72,143.85 587.49,143.90 588.25,143.94 589.02,143.98 589.78,144.01 590.55,144.04 591.32,144.06 592.08,144.08 592.85,144.10 593.62,144.12 594.38,144.13 595.15,144.14 595.91,144.15 596.68,144.16 597.45,144.16 598.21,144.17 598.98,144.18 599.74,144.18 600.51,144.18 601.28,144.19 602.04,144.19 602.81,144.19 603.58,144.19 604.34,144.19 605.11,144.19 605.87,144.20 606.64,144.20 607.41,144.20 608.17,144.20 608.94,144.20 609.70,144.20 610.47,144.20 611.24,144.20 612.00,144.20 612.77,144.20 613.54,144.20 614.30,144.20 615.07,144.20 615.83,144.20 616.60,144.20 617.37,144.20 618.13,144.20 618.90,144.20 619.66,144.20 620.43,144.20 621.20,144.20 621.96,144.20 622.73,144.20 623.50,144.20 624.26,144.20 625.03,144.20 625.79,144.20 626.56,144.20 627.33,144.20 628.09,144.20 628.86,144.20 629.62,144.20 630.39,144.20 631.16,144.20 631.92,144.20 632.69,144.20 633.46,144.20 634.22,144.20 634.99,144.20 635.75,144.20 636.52,144.20 637.29,144.20 638.05,144.20 638.82,144.20 639.58,144.20 640.35,144.20 641.12,144.20 641.88,144.20 642.65,144.20 643.42,144.20 644.18,144.20 644.95,144.20 645.71,144.20 646.48,144.20 647.25,144.20 648.01,144.20 648.78,144.20 649.55,144.20 650.31,144.20 651.08,144.20 651.84,144.20 652.61,144.20 653.38,144.20 654.14,144.20 654.91,144.20 655.67,144.20 656.44,144.20 657.21,144.20 657.97,144.20 658.74,144.20 659.51,144.20 660.27,144.20 661.04,144.20 661.80,144.20 662.57,144.20 663.34,144.20 664.10,144.20 664.87,144.20 665.63,144.20 666.40,144.20 667.17,144.20 667.93,144.20 668.70,144.20 669.47,144.20 670.23,144.20 671.00,144.20 671.76,144.20 672.53,144.20 673.30,144.20 674.06,144.20 674.83,144.20 675.59,144.20 676.36,144.20 677.13,144.20 677.89,144.20 678.66,144.20 679.43,144.20 680.19,144.20 680.96,144.20 681.72,144.20 682.49,144.20 683.26,144.20 684.02,144.20 684.79,144.20 685.55,144.20 686.32,144.20 687.09,144.20 687.85,144.20 688.62,144.20 689.39,144.20 690.15,144.20 690.92,144.20 691.68,144.20 692.45,144.20 693.22,144.20 693.98,144.20 694.75,144.20 695.52,144.20 696.28,144.20 697.05,144.20 697.81,144.20 698.58,144.20 699.35,144.20 700.11,144.20 700.88,144.20 701.64,144.20 702.41,144.20 703.18,144.20 703.94,144.20 704.71,144.20 705.48,144.20 706.24,144.20 707.01,144.20 707.77,144.20 708.54,144.20 709.31,144.20 710.07,144.20 710.84,144.20 711.60,144.20 712.37,144.20 713.14,144.20 713.90,144.20 714.67,144.20 715.44,144.20 716.20,144.20 716.97,144.20 717.73,144.20 718.50,144.20" fill="none" stroke="#f00" stroke-width="1.1"/>
<polyline points="412.80,144.20 413.57,144.20 414.33,144.20 415.10,144.20 415.86,144.20 416.63,144.20 417.40,144.20 418.16,144.20 418.93,144.20 419.70,144.20 420.46,144.20 421.23,144.20 421.99,144.20 422.76,144.20 423.53,144.20 424.29,144.20 425.06,144.20 425.82,144.20 426.59,144.20 427.36,144.20 428.12,144.20 428.89,144.20 429.66,144.20 430.42,144.20 431.19,144.20 431.95,144.20 432.72,144.20 433.49,144.20 434.25,144.20 435.02,144.20 435.78,144.20 436.55,144.20 437.32,144.20 438.08,144.20 438.85,144.20 439.62,144.20 440.38,144.20 441.15,144.20 441.91,144.20 442.68,144.20 443.45,144.20 444.21,144.20 444.98,144.20 445.75,144.20 446.51,144.20 447.28,144.20 448.04,144.20 448.81,144.20 449.58,144.20 450.34,144.20 451.11,144.20 451.87,144.20 452.64,144.20 453.41,144.20 454.17,144.20 454.94,144.20 455.71,144.20 456.47,144.20 457.24,144.20 458.00,144.20 458.77,144.20 459.54,144.20 460.30,144.20 461.07,144.20 461.83,144.20 462.60,144.20 463.37,144.20 464.13,144.20 464.90,144.20 465.67,144.20 466.43,144.20 467.20,144.20 467.96,144.20 468.73,144.20 469.50,144.20 470.26,144.20 471.03,144.20 471.79,144.20 472.56,144.20 473.33,144.20 474.09,144.20 474.86,144.20 475.63,144.19 476.39,144.19 477.16,144.19 477.92,144.19 478.69,144.19 479.46,144.19 480.22,144.19 480.99,144.18 481.75,144.18 482.52,144.18 483.29,144.17 484.05,144.17 484.82,144.17 485.59,144.16 486.35,144.16 487.12,144.15 487.88,144.14 488.65,144.13 489.42,144.12 490.18,144.11 490.95,144.10 491.72,144.09 492.48,144.07 493.25,144.05 494.01,144.04 494.78,144.01 495.55,143.99 496.31,143.96 497.08,143.93 497.84,143.90 498.61,143.86 499.38,143.82 500.14,143.77 500.91,143.72 501.68,143.66 502.44,143.59 503.21,143.52 503.97,143.44 504.74,143.36 505.51,143.26 506.27,143.16 507.04,143.04 507.80,142.92 508.57,142.78 509.34,142.63 510.10,142.46 510.87,142.28 511.64,142.09 512.40,141.88 513.17,141.65 513.93,141.40 514.70,141.13 515.47,140.83 516.23,140.52 517.00,140.18 517.76,139.82 518.53,139.42 519.30,139.00 520.06,138.55 520.83,138.07 521.60,137.56 522.36,137.01 523.13,136.43 523.89,135.81 524.66,135.15 525.43,134.46 526.19,133.72 526.96,132.94 527.72,132.12 528.49,131.26 529.26,130.35 530.02,129.39 530.79,128.40 531.56,127.35 532.32,126.26 533.09,125.12 533.85,123.94 534.62,122.71 535.39,121.43 536.15,120.11 536.92,118.74 537.68,117.33 538.45,115.88 539.22,114.39 539.98,112.86 540.75,111.29 541.52,109.68 542.28,108.05 543.05,106.38 543.81,104.69 544.58,102.98 545.35,101.24 546.11,99.49 546.88,97.73 547.65,95.96 548.41,94.18 549.18,92.40 549.94,90.63 550.71,88.87 551.48,87.13 552.24,85.40 553.01,83.70 553.77,82.02 554.54,80.38 555.31,78.78 556.07,77.23 556.84,75.73 557.61,74.28 558.37,72.89 559.14,71.56 559.90,70.31 560.67,69.12 561.44,68.02 562.20,67.00 562.97,66.06 563.73,65.21 564.50,64.45 565.27,63.79 566.03,63.22 566.80,62.76 567.57,62.39 568.33,62.13 569.10,61.97 569.86,61.92 570.63,61.97 571.40,62.12 572.16,62.38 572.93,62.74 573.69,63.20 574.46,63.76 575.23,64.41 575.99,65.17 576.76,66.01 577.53,66.94 578.29,67.96 579.06,69.06 579.82,70.24 580.59,71.49 581.36,72.81 582.12,74.20 582.89,75.65 583.65,77.15 584.42,78.70 585.19,80.29 585.95,81.93 586.72,83.60 587.49,85.30 588.25,87.03 589.02,88.78 589.78,90.54 590.55,92.31 591.32,94.08 592.08,95.86 592.85,97.63 593.62,99.40 594.38,101.15 595.15,102.88 595.91,104.60 596.68,106.29 597.45,107.96 598.21,109.59 598.98,111.20 599.74,112.77 600.51,114.30 601.28,115.80 602.04,117.25 602.81,118.66 603.58,120.03 604.34,121.36 605.11,122.64 605.87,123.87 606.64,125.06 607.41,126.20 608.17,127.29 608.94,128.34 609.70,129.34 610.47,130.30 611.24,131.21 612.00,132.07 612.77,132.90 613.54,133.68 614.30,134.42 615.07,135.12 615.83,135.78 616.60,136.40 617.37,136.98 618.13,137.53 618.90,138.05 619.66,138.53 620.43,138.98 621.20,139.40 621.96,139.80 622.73,140.16 623.50,140.50 624.26,140.82 625.03,141.11 625.79,141.38 626.56,141.63 627.33,141.86 628.09,142.08 628.86,142.27 629.62,142.45 630.39,142.62 631.16,142.77 631.92,142.91 632.69,143.04 633.46,143.15 634.22,143.26 634.99,143.35 635.75,143.44 636.52,143.52 637.29,143.59 638.05,143.65 638.82,143.71 639.58,143.77 640.35,143.81 641.12,143.86 641.88,143.89 642.65,143.93 643.42,143.96 644.18,143.99 644.95,144.01 645.71,144.03 646.48,144.05 647.25,144.07 648.01,144.09 648.78,144.10 649.55,144.11 650.31,144.12 651.08,144.13 651.84,144.14 652.61,144.15 653.38,144.16 654.14,144.16 654.91,144.17 655.67,144.17 656.44,144.17 657.21,144.18 657.97,144.18 658.74,144.18 659.51,144.19 660.27,144.19 661.04,144.19 661.80,144.19 662.57,144.19 663.34,144.19 664.10,144.19 664.87,144.20 665.63,144.20 666.40,144.20 667.17,144.20 667.93,144.20 668.70,144.20 669.47,144.20 670.23,144.20 671.00,144.20 671.76,144.20 672.53,144.20 673.30,144.20 674.06,144.20 674.83,144.20 675.59,144.20 676.36,144.20 677.13,144.20 677.89,144.20 678.66,144.20 679.43,144.20 680.19,144.20 680.96,144.20 681.72,144.20 682.49,144.20 683.26,144.20 684.02,144.20 684.79,144.20 685.55,144.20 686.32,144.20 687.09,144.20 687.85,144.20 688.62,144.20 689.39,144.20 690.15,144.20 690.92,144.20 691.68,144.20 692.45,144.20 693.22,144.20 693.98,144.20 694.75,144.20 695.52,144.20 696.28,144.20 697.05,144.20 697.81,144.20 698.58,144.20 699.35,144.20 700.11,144.20 700.88,144.20 701.64,144.20 702.41,144.20 703.18,144.20 703.94,144.20 704.71,144.20 705.48,144.20 706.24,144.20 707.01,144.20 707.77,144.20 708.54,144.20 709.31,144.20 710.07,144.20 710.84,144.20 711.60,144.20 712.37,144.20 713.14,144.20 713.90,144.20 714.67,144.20 715.44,144.20 716.20,144.20 716.97,144.20 717.73,144.20 718.50,144.20" fill="none" stroke="#f00" stroke-width="3"/>
<polyline points="412.80,144.15 413.57,144.15 414.33,144.14 415.10,144.14 415.86,144.13 416.63,144.13 417.40,144.12 418.16,144.11 418.93,144.10 419.70,144.10 420.46,144.09 421.23,144.08 421.99,144.07 422.76,144.06 423.53,144.05 424.29,144.04 425.06,144.03 425.82,144.01 426.59,144.00 427.36,143.99 428.12,143.97 428.89,143.96 429.66,143.94 430.42,143.92 431.19,143.91 431.95,143.89 432.72,143.87 433.49,143.85 434.25,143.83 435.02,143.81 435.78,143.79 436.55,143.76 437.32,143.74 438.08,143.72 438.85,143.69 439.62,143.67 440.38,143.64 441.15,143.61 441.91,143.59 442.68,143.56 443.45,143.53 444.21,143.50 444.98,143.47 445.75,143.44 446.51,143.41 447.28,143.38 448.04,143.35 448.81,143.32 449.58,143.29 450.34,143.26 451.11,143.22 451.87,143.19 452.64,143.16 453.41,143.12 454.17,143.09 454.94,143.06 455.71,143.02 456.47,142.98 457.24,142.95 458.00,142.91 458.77,142.87 459.54,142.83 460.30,142.79 461.07,142.75 461.83,142.71 462.60,142.66 463.37,142.61 464.13,142.56 464.90,142.51 465.67,142.46 466.43,142.40 467.20,142.34 467.96,142.27 468.73,142.21 469.50,142.13 470.26,142.05 471.03,141.97 471.79,141.88 472.56,141.78 473.33,141.68 474.09,141.56 474.86,141.44 475.63,141.31 476.39,141.17 477.16,141.02 477.92,140.86 478.69,140.68 479.46,140.49 480.22,140.29 480.99,140.07 481.75,139.84 482.52,139.59 483.29,139.32 484.05,139.03 484.82,138.72 485.59,138.39 486.35,138.04 487.12,137.66 487.88,137.26 488.65,136.83 489.42,136.38 490.18,135.90 490.95,135.39 491.72,134.85 492.48,134.28 493.25,133.67 494.01,133.03 494.78,132.36 495.55,131.65 496.31,130.90 497.08,130.11 497.84,129.29 498.61,128.42 499.38,127.51 500.14,126.57 500.91,125.57 501.68,124.54 502.44,123.46 503.21,122.34 503.97,121.17 504.74,119.95 505.51,118.69 506.27,117.39 507.04,116.03 507.80,114.63 508.57,113.19 509.34,111.70 510.10,110.17 510.87,108.59 511.64,106.96 512.40,105.30 513.17,103.59 513.93,101.84 514.70,100.05 515.47,98.23 516.23,96.36 517.00,94.47 517.76,92.54 518.53,90.58 519.30,88.59 520.06,86.57 520.83,84.54 521.60,82.48 522.36,80.40 523.13,78.31 523.89,76.21 524.66,74.11 525.43,71.99 526.19,69.88 526.96,67.77 527.72,65.66 528.49,63.56 529.26,61.48 530.02,59.42 530.79,57.38 531.56,55.36 532.32,53.38 533.09,51.43 533.85,49.51 534.62,47.64 535.39,45.82 536.15,44.05 536.92,42.33 537.68,40.67 538.45,39.07 539.22,37.54 539.98,36.07 540.75,34.68 541.52,33.37 542.28,32.14 543.05,30.98 543.81,29.92 544.58,28.94 545.35,28.05 546.11,27.25 546.88,26.55 547.65,25.95 548.41,25.44 549.18,25.03 549.94,24.72 550.71,24.51 551.48,24.41 552.24,24.40 553.01,24.50 553.77,24.70 554.54,25.00 555.31,25.40 556.07,25.90 556.84,26.49 557.61,27.18 558.37,27.97 559.14,28.85 559.90,29.82 560.67,30.87 561.44,32.00 562.20,33.22 562.97,34.51 563.73,35.86 564.50,37.28 565.27,38.76 566.03,40.28 566.80,41.84 567.57,43.44 568.33,45.06 569.10,46.70 569.86,48.34 570.63,49.98 571.40,51.61 572.16,53.23 572.93,54.84 573.69,56.44 574.46,58.02 575.23,59.61 575.99,61.19 576.76,62.80 577.53,64.44 578.29,66.13 579.06,67.88 579.82,69.70 580.59,71.60 581.36,73.60 582.12,75.68 582.89,77.85 583.65,80.09 584.42,82.41 585.19,84.78 585.95,87.18 586.72,89.59 587.49,91.99 588.25,94.37 589.02,96.71 589.78,98.99 590.55,101.20 591.32,103.32 592.08,105.36 592.85,107.32 593.62,109.18 594.38,110.96 595.15,112.65 595.91,114.26 596.68,115.79 597.45,117.25 598.21,118.65 598.98,119.98 599.74,121.25 600.51,122.47 601.28,123.63 602.04,124.75 602.81,125.82 603.58,126.84 604.34,127.81 605.11,128.75 605.87,129.64 606.64,130.49 607.41,131.31 608.17,132.08 608.94,132.82 609.70,133.52 610.47,134.19 611.24,134.82 612.00,135.42 612.77,135.99 613.54,136.53 614.30,137.04 615.07,137.52 615.83,137.98 616.60,138.40 617.37,138.81 618.13,139.19 618.90,139.54 619.66,139.88 620.43,140.19 621.20,140.49 621.96,140.76 622.73,141.02 623.50,141.26 624.26,141.49 625.03,141.70 625.79,141.89 626.56,142.08 627.33,142.25 628.09,142.40 628.86,142.55 629.62,142.69 630.39,142.81 631.16,142.93 631.92,143.04 632.69,143.13 633.46,143.23 634.22,143.31 634.99,143.39 635.75,143.46 636.52,143.53 637.29,143.59 638.05,143.64 638.82,143.69 639.58,143.74 640.35,143.78 641.12,143.82 641.88,143.86 642.65,143.89 643.42,143.92 644.18,143.95 644.95,143.97 645.71,143.99 646.48,144.01 647.25,144.03 648.01,144.05 648.78,144.07 649.55,144.08 650.31,144.09 651.08,144.10 651.84,144.11 652.61,144.12 653.38,144.13 654.14,144.14 654.91,144.14 655.67,144.15 656.44,144.16 657.21,144.16 657.97,144.17 658.74,144.17 659.51,144.17 660.27,144.18 661.04,144.18 661.80,144.18 662.57,144.18 663.34,144.18 664.10,144.19 664.87,144.19 665.63,144.19 666.40,144.19 667.17,144.19 667.93,144.19 668.70,144.19 669.47,144.19 670.23,144.20 671.00,144.20 671.76,144.20 672.53,144.20 673.30,144.20 674.06,144.20 674.83,144.20 675.59,144.20 676.36,144.20 677.13,144.20 677.89,144.20 678.66,144.20 679.43,144.20 680.19,144.20 680.96,144.20 681.72,144.20 682.49,144.20 683.26,144.20 684.02,144.20 684.79,144.20 685.55,144.20 686.32,144.20 687.09,144.20 687.85,144.20 688.62,144.20 689.39,144.20 690.15,144.20 690.92,144.20 691.68,144.20 692.45,144.20 693.22,144.20 693.98,144.20 694.75,144.20 695.52,144.20 696.28,144.20 697.05,144.20 697.81,144.20 698.58,144.20 699.35,144.20 700.11,144.20 700.88,144.20 701.64,144.20 702.41,144.20 703.18,144.20 703.94,144.20 704.71,144.20 705.48,144.20 706.24,144.20 707.01,144.20 707.77,144.20 708.54,144.20 709.31,144.20 710.07,144.20 710.84,144.20 711.60,144.20 712.37,144.20 713.14,144.20 713.90,144.20 714.67,144.20 715.44,144.20 716.20,144.20 716.97,144.20 717.73,144.20 718.50,144.20" fill="none" stroke="#808080" stroke-opacity="0.6" stroke-width="4.6"/>
</g>
<text x="412.8" y="156.2" text-anchor="middle" font-size="9" >15</text>
<text x="463.75" y="156.2" text-anchor="middle" font-size="9" >10</text>
<text x="514.7" y="156.2" text-anchor="middle" font-size="9" >5</text>
<text x="565.65" y="156.2" text-anchor="middle" font-size="9" >0</text>
<text x="616.6" y="156.2" text-anchor="middle" font-size="9" >−5</text>
<text x="667.55" y="156.2" text-anchor="middle" font-size="9" >−10</text>
<text x="718.5" y="156.2" text-anchor="middle" font-size="9" >−15</text>
<text x="406.5" y="145.8" text-anchor="end" font-size="9" >0.00</text>
<text x="406.5" y="129.9" text-anchor="end" font-size="9" >0.02</text>
<text x="406.5" y="114" text-anchor="end" font-size="9" >0.04</text>
<text x="406.5" y="98.1" text-anchor="end" font-size="9" >0.06</text>
<text x="406.5" y="82.2" text-anchor="end" font-size="9" >0.08</text>
<text x="406.5" y="66.3" text-anchor="end" font-size="9" >0.10</text>
<text x="406.5" y="50.4" text-anchor="end" font-size="9" >0.12</text>
<text x="406.5" y="34.5" text-anchor="end" font-size="9" >0.14</text>
<text x="406.5" y="18.6" text-anchor="end" font-size="9" >0.16</text>
<text x="421.5" y="29.2" font-size="10.6">N=98</text>
<text x="565.6" y="12.6" text-anchor="middle" font-size="10.5">Selected distance-modulus bin</text>
<g transform="translate(381.9,90.6) rotate(-90)" font-family='"Liberation Serif", serif' font-style='italic'><text x="0" y="0" font-size="11.3" letter-spacing="0.5">f(μ<tspan font-size="7.5" dy="1.6">l</tspan><tspan dy="-1.6">)</tspan></text></g>
<text y="169.8" font-size="9.7"><tspan x="544.6" font-family='"Liberation Serif", serif' font-style='italic' font-size="10.3">μ</tspan><tspan x="550.2" dy="1.2" font-family='"Liberation Serif", serif' font-style='italic' font-size="7.6">l</tspan><tspan x="553.2" dy="-1.2">,</tspan><tspan x="558.4">mas/yr</tspan></text>
<rect x="412.8" y="195.8" width="145.2" height="125.7" fill="#EAEAF2"/>
<line x1="437" y1="195.8" x2="437" y2="321.5" stroke="#fff" stroke-width="1"/>
<line x1="461.2" y1="195.8" x2="461.2" y2="321.5" stroke="#fff" stroke-width="1"/>
<line x1="485.4" y1="195.8" x2="485.4" y2="321.5" stroke="#fff" stroke-width="1"/>
<line x1="509.6" y1="195.8" x2="509.6" y2="321.5" stroke="#fff" stroke-width="1"/>
<line x1="533.8" y1="195.8" x2="533.8" y2="321.5" stroke="#fff" stroke-width="1"/>
<line x1="412.8" y1="220.94" x2="558" y2="220.94" stroke="#fff" stroke-width="1"/>
<line x1="412.8" y1="246.08" x2="558" y2="246.08" stroke="#fff" stroke-width="1"/>
<line x1="412.8" y1="271.22" x2="558" y2="271.22" stroke="#fff" stroke-width="1"/>
<line x1="412.8" y1="296.36" x2="558" y2="296.36" stroke="#fff" stroke-width="1"/>
<circle cx="458.5" cy="220.9" r="2.0" fill="#f00" fill-opacity="0.55"/>
<circle cx="469.6" cy="223.7" r="2.0" fill="#f00" fill-opacity="0.55"/>
<circle cx="471.3" cy="225.4" r="2.0" fill="#f00" fill-opacity="0.55"/>
<circle cx="474.1" cy="226.6" r="2.0" fill="#f00" fill-opacity="0.55"/>
<circle cx="475.3" cy="230.9" r="2.0" fill="#f00" fill-opacity="0.55"/>
<circle cx="469.6" cy="232.1" r="2.0" fill="#f00" fill-opacity="0.55"/>
<circle cx="467.3" cy="234.3" r="2.0" fill="#f00" fill-opacity="0.55"/>
<circle cx="461" cy="232.6" r="2.0" fill="#f00" fill-opacity="0.55"/>
<circle cx="459.6" cy="234.3" r="2.0" fill="#f00" fill-opacity="0.55"/>
<circle cx="454.7" cy="236.1" r="2.0" fill="#f00" fill-opacity="0.55"/>
<circle cx="461.9" cy="238.9" r="2.0" fill="#f00" fill-opacity="0.55"/>
<circle cx="470.4" cy="240" r="2.0" fill="#f00" fill-opacity="0.55"/>
<circle cx="475.6" cy="237.1" r="2.0" fill="#f00" fill-opacity="0.55"/>
<circle cx="482.7" cy="236.5" r="2.0" fill="#f00" fill-opacity="0.55"/>
<circle cx="483.9" cy="229.4" r="2.0" fill="#f00" fill-opacity="0.55"/>
<circle cx="482.1" cy="238.3" r="2.0" fill="#f00" fill-opacity="0.55"/>
<circle cx="456.4" cy="241.8" r="2.0" fill="#f00" fill-opacity="0.55"/>
<circle cx="459.9" cy="243.1" r="2.0" fill="#f00" fill-opacity="0.55"/>
<circle cx="461" cy="246.3" r="2.0" fill="#f00" fill-opacity="0.55"/>
<circle cx="470.1" cy="246" r="2.0" fill="#f00" fill-opacity="0.55"/>
<circle cx="470.7" cy="247.7" r="2.0" fill="#f00" fill-opacity="0.55"/>
<circle cx="479.9" cy="244.3" r="2.0" fill="#f00" fill-opacity="0.55"/>
<circle cx="483.9" cy="244.9" r="2.0" fill="#f00" fill-opacity="0.55"/>
<circle cx="485.9" cy="230" r="2.0" fill="#f00" fill-opacity="0.55"/>
<circle cx="483.6" cy="231.7" r="2.0" fill="#f00" fill-opacity="0.55"/>
<circle cx="486.4" cy="232.3" r="2.0" fill="#f00" fill-opacity="0.55"/>
<circle cx="491.6" cy="232.3" r="2.0" fill="#f00" fill-opacity="0.55"/>
<circle cx="493.3" cy="228.3" r="2.0" fill="#f00" fill-opacity="0.55"/>
<circle cx="496.7" cy="227.1" r="2.0" fill="#f00" fill-opacity="0.55"/>
<circle cx="506.4" cy="227.1" r="2.0" fill="#f00" fill-opacity="0.55"/>
<circle cx="506.4" cy="235.7" r="2.0" fill="#f00" fill-opacity="0.55"/>
<circle cx="501.3" cy="238.8" r="2.0" fill="#f00" fill-opacity="0.55"/>
<circle cx="483.6" cy="237.4" r="2.0" fill="#f00" fill-opacity="0.55"/>
<circle cx="486.4" cy="236.9" r="2.0" fill="#f00" fill-opacity="0.55"/>
<circle cx="488.7" cy="240.3" r="2.0" fill="#f00" fill-opacity="0.55"/>
<circle cx="489.3" cy="242" r="2.0" fill="#f00" fill-opacity="0.55"/>
<circle cx="485.3" cy="244.9" r="2.0" fill="#f00" fill-opacity="0.55"/>
<circle cx="486.4" cy="247.1" r="2.0" fill="#f00" fill-opacity="0.55"/>
<circle cx="493.9" cy="244.9" r="2.0" fill="#f00" fill-opacity="0.55"/>
<circle cx="496.7" cy="245.7" r="2.0" fill="#f00" fill-opacity="0.55"/>
<circle cx="510.4" cy="247.7" r="2.0" fill="#f00" fill-opacity="0.55"/>
<circle cx="514.4" cy="246" r="2.0" fill="#f00" fill-opacity="0.55"/>
<circle cx="484.1" cy="248.9" r="2.0" fill="#f00" fill-opacity="0.55"/>
<circle cx="462.1" cy="248.6" r="2.0" fill="#f00" fill-opacity="0.55"/>
<circle cx="472.4" cy="249.7" r="2.0" fill="#f00" fill-opacity="0.55"/>
<circle cx="463.3" cy="250.9" r="2.0" fill="#f00" fill-opacity="0.55"/>
<circle cx="465.6" cy="250.3" r="2.0" fill="#f00" fill-opacity="0.55"/>
<circle cx="463.3" cy="252" r="2.0" fill="#f00" fill-opacity="0.55"/>
<circle cx="455.9" cy="254.3" r="2.0" fill="#f00" fill-opacity="0.55"/>
<circle cx="459.9" cy="255.4" r="2.0" fill="#f00" fill-opacity="0.55"/>
<circle cx="462.1" cy="259.2" r="2.0" fill="#f00" fill-opacity="0.55"/>
<circle cx="470.1" cy="254.3" r="2.0" fill="#f00" fill-opacity="0.55"/>
<circle cx="473" cy="254.3" r="2.0" fill="#f00" fill-opacity="0.55"/>
<circle cx="469.6" cy="256" r="2.0" fill="#f00" fill-opacity="0.55"/>
<circle cx="477.6" cy="255.4" r="2.0" fill="#f00" fill-opacity="0.55"/>
<circle cx="479.9" cy="251.4" r="2.0" fill="#f00" fill-opacity="0.55"/>
<circle cx="483.3" cy="250.9" r="2.0" fill="#f00" fill-opacity="0.55"/>
<circle cx="472.4" cy="259.2" r="2.0" fill="#f00" fill-opacity="0.55"/>
<circle cx="474.7" cy="258.9" r="2.0" fill="#f00" fill-opacity="0.55"/>
<circle cx="477" cy="258.9" r="2.0" fill="#f00" fill-opacity="0.55"/>
<circle cx="466.1" cy="261.7" r="2.0" fill="#f00" fill-opacity="0.55"/>
<circle cx="481" cy="263.8" r="2.0" fill="#f00" fill-opacity="0.55"/>
<circle cx="461.6" cy="266.3" r="2.0" fill="#f00" fill-opacity="0.55"/>
<circle cx="465" cy="267.4" r="2.0" fill="#f00" fill-opacity="0.55"/>
<circle cx="466.7" cy="266.9" r="2.0" fill="#f00" fill-opacity="0.55"/>
<circle cx="464.4" cy="270" r="2.0" fill="#f00" fill-opacity="0.55"/>
<circle cx="475.9" cy="267.4" r="2.0" fill="#f00" fill-opacity="0.55"/>
<circle cx="477.6" cy="268" r="2.0" fill="#f00" fill-opacity="0.55"/>
<circle cx="476.4" cy="271.4" r="2.0" fill="#f00" fill-opacity="0.55"/>
<circle cx="470.7" cy="272.6" r="2.0" fill="#f00" fill-opacity="0.55"/>
<circle cx="477" cy="277.5" r="2.0" fill="#f00" fill-opacity="0.55"/>
<circle cx="486.4" cy="246.3" r="2.0" fill="#f00" fill-opacity="0.55"/>
<circle cx="488.7" cy="241.7" r="2.0" fill="#f00" fill-opacity="0.55"/>
<circle cx="483.6" cy="251.4" r="2.0" fill="#f00" fill-opacity="0.55"/>
<circle cx="486.4" cy="248.6" r="2.0" fill="#f00" fill-opacity="0.55"/>
<circle cx="488.1" cy="250.9" r="2.0" fill="#f00" fill-opacity="0.55"/>
<circle cx="485.3" cy="254.3" r="2.0" fill="#f00" fill-opacity="0.55"/>
<circle cx="487.6" cy="257.7" r="2.0" fill="#f00" fill-opacity="0.55"/>
<circle cx="492.1" cy="254.9" r="2.0" fill="#f00" fill-opacity="0.55"/>
<circle cx="495" cy="257.1" r="2.0" fill="#f00" fill-opacity="0.55"/>
<circle cx="500.7" cy="252" r="2.0" fill="#f00" fill-opacity="0.55"/>
<circle cx="500.4" cy="253.7" r="2.0" fill="#f00" fill-opacity="0.55"/>
<circle cx="495" cy="260.6" r="2.0" fill="#f00" fill-opacity="0.55"/>
<circle cx="491" cy="262.6" r="2.0" fill="#f00" fill-opacity="0.55"/>
<circle cx="489.7" cy="303.7" r="2.0" fill="#f00" fill-opacity="0.55"/>
<text x="412.8" y="334.7" text-anchor="middle" font-size="9" >15</text>
<text x="437" y="334.7" text-anchor="middle" font-size="9" >10</text>
<text x="461.2" y="334.7" text-anchor="middle" font-size="9" >5</text>
<text x="485.4" y="334.7" text-anchor="middle" font-size="9" >0</text>
<text x="509.6" y="334.7" text-anchor="middle" font-size="9" >−5</text>
<text x="533.8" y="334.7" text-anchor="middle" font-size="9" >−10</text>
<text x="558" y="334.7" text-anchor="middle" font-size="9" >−15</text>
<text x="406.5" y="197.8" text-anchor="end" font-size="9" >10</text>
<text x="406.5" y="222.94" text-anchor="end" font-size="9" >5</text>
<text x="406.5" y="248.08" text-anchor="end" font-size="9" >0</text>
<text x="406.5" y="273.22" text-anchor="end" font-size="9" >−5</text>
<text x="406.5" y="298.36" text-anchor="end" font-size="9" >−10</text>
<text x="406.5" y="323.5" text-anchor="end" font-size="9" >−15</text>
<g transform="translate(385.3,280.9) rotate(-90)">
<text y="0" font-size="9.7"><tspan x="0.2" font-family='"Liberation Serif", serif' font-style='italic' font-size="10.3">μ</tspan><tspan x="5.8" dy="1.2" font-family='"Liberation Serif", serif' font-style='italic' font-size="7.6">b</tspan><tspan x="8.8" dy="-1.2">,</tspan><tspan x="14">mas/yr</tspan></text>
</g>
<text y="347.6" font-size="9.7"><tspan x="464.2" font-family='"Liberation Serif", serif' font-style='italic' font-size="10.3">μ</tspan><tspan x="469.8" dy="1.2" font-family='"Liberation Serif", serif' font-style='italic' font-size="7.6">l</tspan><tspan x="472.8" dy="-1.2">,</tspan><tspan x="478">mas/yr</tspan></text>
<rect x="573.7" y="195.8" width="144.8" height="125.7" fill="#EAEAF2"/>
<line x1="597.84" y1="195.8" x2="597.84" y2="321.5" stroke="#fff" stroke-width="1"/>
<line x1="621.97" y1="195.8" x2="621.97" y2="321.5" stroke="#fff" stroke-width="1"/>
<line x1="646.11" y1="195.8" x2="646.11" y2="321.5" stroke="#fff" stroke-width="1"/>
<line x1="670.24" y1="195.8" x2="670.24" y2="321.5" stroke="#fff" stroke-width="1"/>
<line x1="694.38" y1="195.8" x2="694.38" y2="321.5" stroke="#fff" stroke-width="1"/>
<line x1="573.7" y1="220.94" x2="718.5" y2="220.94" stroke="#fff" stroke-width="1"/>
<line x1="573.7" y1="246.08" x2="718.5" y2="246.08" stroke="#fff" stroke-width="1"/>
<line x1="573.7" y1="271.22" x2="718.5" y2="271.22" stroke="#fff" stroke-width="1"/>
<line x1="573.7" y1="296.36" x2="718.5" y2="296.36" stroke="#fff" stroke-width="1"/>
<path d="M622.1,218.5L626.5,222.9M622.1,222.9L626.5,218.5M623.8,219.7L628.2,224.1M623.8,224.1L628.2,219.7M636.9,219.1L641.3,223.5M636.9,223.5L641.3,219.1M638.7,219.7L643.1,224.1M638.7,224.1L643.1,219.7M644.4,220.2L648.8,224.6M644.4,224.6L648.8,220.2M635.8,224.2L640.2,228.6M635.8,228.6L640.2,224.2M622.7,227.1L627.1,231.5M622.7,231.5L627.1,227.1M620.9,229.9L625.3,234.3M620.9,234.3L625.3,229.9M617.5,232.2L621.9,236.6M617.5,236.6L621.9,232.2M628.9,234.5L633.3,238.9M628.9,238.9L633.3,234.5M634.1,230.5L638.5,234.9M634.1,234.9L638.5,230.5M635.2,233.4L639.6,237.8M635.2,237.8L639.6,233.4M642.1,225.9L646.5,230.3M642.1,230.3L646.5,225.9M644.4,227.7L648.8,232.1M644.4,232.1L648.8,227.7M641.5,232.8L645.9,237.2M641.5,237.2L645.9,232.8M644.4,231.1L648.8,235.5M644.4,235.5L648.8,231.1M618.7,240.2L623.1,244.6M618.7,244.6L623.1,240.2M631.8,241.4L636.2,245.8M631.8,245.8L636.2,241.4M634.7,239.1L639.1,243.5M634.7,243.5L639.1,239.1M644.4,238.5L648.8,242.9M644.4,242.9L648.8,238.5M644.9,244.2L649.3,248.6M644.9,248.6L649.3,244.2M614.7,250.5L619.1,254.9M614.7,254.9L619.1,250.5M620.4,249.9L624.8,254.3M620.4,254.3L624.8,249.9M627.2,245.9L631.6,250.3M627.2,250.3L631.6,245.9M627.8,249.9L632.2,254.3M627.8,254.3L632.2,249.9M633.5,248.2L637.9,252.6M633.5,252.6L637.9,248.2M642.1,248.2L646.5,252.6M642.1,252.6L646.5,248.2M649.8,220.2L654.2,224.6M649.8,224.6L654.2,220.2M652.7,224.2L657.1,228.6M652.7,228.6L657.1,224.2M664.7,224.8L669.1,229.2M664.7,229.2L669.1,224.8M643.5,227.1L647.9,231.5M643.5,231.5L647.9,227.1M647.5,226.5L651.9,230.9M647.5,230.9L651.9,226.5M649.2,230.5L653.6,234.9M649.2,234.9L653.6,230.5M654.9,231.1L659.3,235.5M654.9,235.5L659.3,231.1M645.2,237.4L649.6,241.8M645.2,241.8L649.6,237.4M650.4,236.8L654.8,241.2M650.4,241.2L654.8,236.8M652.7,240.8L657.1,245.2M652.7,245.2L657.1,240.8M646.4,244.8L650.8,249.2M646.4,249.2L650.8,244.8M652.7,246.5L657.1,250.9M652.7,250.9L657.1,246.5M659.5,244.6L663.9,249M659.5,249L663.9,244.6M642.4,251.1L646.8,255.5M642.4,255.5L646.8,251.1M646.4,252.2L650.8,256.6M646.4,256.6L650.8,252.2M628.4,249.5L632.8,253.9M628.4,253.9L632.8,249.5M628.4,256.9L632.8,261.3M628.4,261.3L632.8,256.9M618.1,265.5L622.5,269.9M618.1,269.9L622.5,265.5M628.4,264.4L632.8,268.8M628.4,268.8L632.8,264.4M634.7,264.4L639.1,268.8M634.7,268.8L639.1,264.4M640.9,260.9L645.3,265.3M640.9,265.3L645.3,260.9M645.5,253.5L649.9,257.9M645.5,257.9L649.9,253.5M646.1,256.9L650.5,261.3M646.1,261.3L650.5,256.9M645.5,267.2L649.9,271.6M645.5,271.6L649.9,267.2M624.9,272.4L629.3,276.8M624.9,276.8L629.3,272.4M627.8,271.8L632.2,276.2M627.8,276.2L632.2,271.8M638.1,270.7L642.5,275.1M638.1,275.1L642.5,270.7M642.7,272.4L647.1,276.8M642.7,276.8L647.1,272.4M619.8,274.7L624.2,279.1M619.8,279.1L624.2,274.7M628.9,275.8L633.3,280.2M628.9,280.2L633.3,275.8M619.2,277.5L623.6,281.9M619.2,281.9L623.6,277.5M619.8,279.8L624.2,284.2M619.8,284.2L624.2,279.8M632.4,278.1L636.8,282.5M632.4,282.5L636.8,278.1M638.7,277.5L643.1,281.9M638.7,281.9L643.1,277.5M641.5,280.4L645.9,284.8M641.5,284.8L645.9,280.4M612.9,283.8L617.3,288.2M612.9,288.2L617.3,283.8M618.1,284.9L622.5,289.3M618.1,289.3L622.5,284.9M634.7,284.9L639.1,289.3M634.7,289.3L639.1,284.9M643.8,285.5L648.2,289.9M643.8,289.9L648.2,285.5M646.9,253.5L651.3,257.9M646.9,257.9L651.3,253.5M648.1,252.9L652.5,257.3M648.1,257.3L652.5,252.9M646.4,258.1L650.8,262.5M646.4,262.5L650.8,258.1M641.2,262.7L645.6,267.1M641.2,267.1L645.6,262.7M654.9,264.9L659.3,269.3M654.9,269.3L659.3,264.9M646.4,267.8L650.8,272.2M646.4,272.2L650.8,267.8M658.9,269.5L663.3,273.9M658.9,273.9L663.3,269.5M668.7,262.4L673.1,266.8M668.7,266.8L673.1,262.4M673.2,265.5L677.6,269.9M673.2,269.9L677.6,265.5M642.9,280.4L647.3,284.8M642.9,284.8L647.3,280.4M651.5,280.4L655.9,284.8M651.5,284.8L655.9,280.4M641.2,284.4L645.6,288.8M641.2,288.8L645.6,284.4M644.1,286.1L648.5,290.5M644.1,290.5L648.5,286.1M649.8,286.7L654.2,291.1M649.8,291.1L654.2,286.7M665.8,287.2L670.2,291.6M665.8,291.6L670.2,287.2M633.6,278.7L638,283.1M633.6,283.1L638,278.7M633.2,286.4L637.6,290.8M633.2,290.8L637.6,286.4M614.8,292.4L619.2,296.8M614.8,296.8L619.2,292.4M619.5,293.7L623.9,298.1M619.5,298.1L623.9,293.7M624.7,291.5L629.1,295.9M624.7,295.9L629.1,291.5M631.1,292.8L635.5,297.2M631.1,297.2L635.5,292.8M641.4,294.5L645.8,298.9M641.4,298.9L645.8,294.5M642.5,225.7L646.9,230.1M642.5,230.1L646.9,225.7M646.8,226.2L651.2,230.6M646.8,230.6L651.2,226.2" stroke="#f00" stroke-opacity="0.55" stroke-width="0.85" fill="none"/>
<text x="573.7" y="334.7" text-anchor="middle" font-size="9" >15</text>
<text x="597.84" y="334.7" text-anchor="middle" font-size="9" >10</text>
<text x="621.97" y="334.7" text-anchor="middle" font-size="9" >5</text>
<text x="646.11" y="334.7" text-anchor="middle" font-size="9" >0</text>
<text x="670.24" y="334.7" text-anchor="middle" font-size="9" >−5</text>
<text x="694.38" y="334.7" text-anchor="middle" font-size="9" >−10</text>
<text x="718.51" y="334.7" text-anchor="middle" font-size="9" >−15</text>
<text x="725" y="197.8" text-anchor="start" font-size="9" >−0.40</text>
<text x="725" y="222.94" text-anchor="start" font-size="9" >−0.45</text>
<text x="725" y="248.08" text-anchor="start" font-size="9" >−0.50</text>
<text x="725" y="273.22" text-anchor="start" font-size="9" >−0.55</text>
<text x="725" y="298.36" text-anchor="start" font-size="9" >−0.60</text>
<text x="725" y="323.5" text-anchor="start" font-size="9" >−0.65</text>
<text y="347.6" font-size="9.7"><tspan x="625.2" font-family='"Liberation Serif", serif' font-style='italic' font-size="10.3">μ</tspan><tspan x="630.8" dy="1.2" font-family='"Liberation Serif", serif' font-style='italic' font-size="7.6">l</tspan><tspan x="633.8" dy="-1.2">,</tspan><tspan x="639">mas/yr</tspan></text>
<text transform="translate(757.5,258.9) rotate(-90)" text-anchor="middle" font-size="9.45">Distance modulus, mag</text>
</g></svg>
</body></html>
